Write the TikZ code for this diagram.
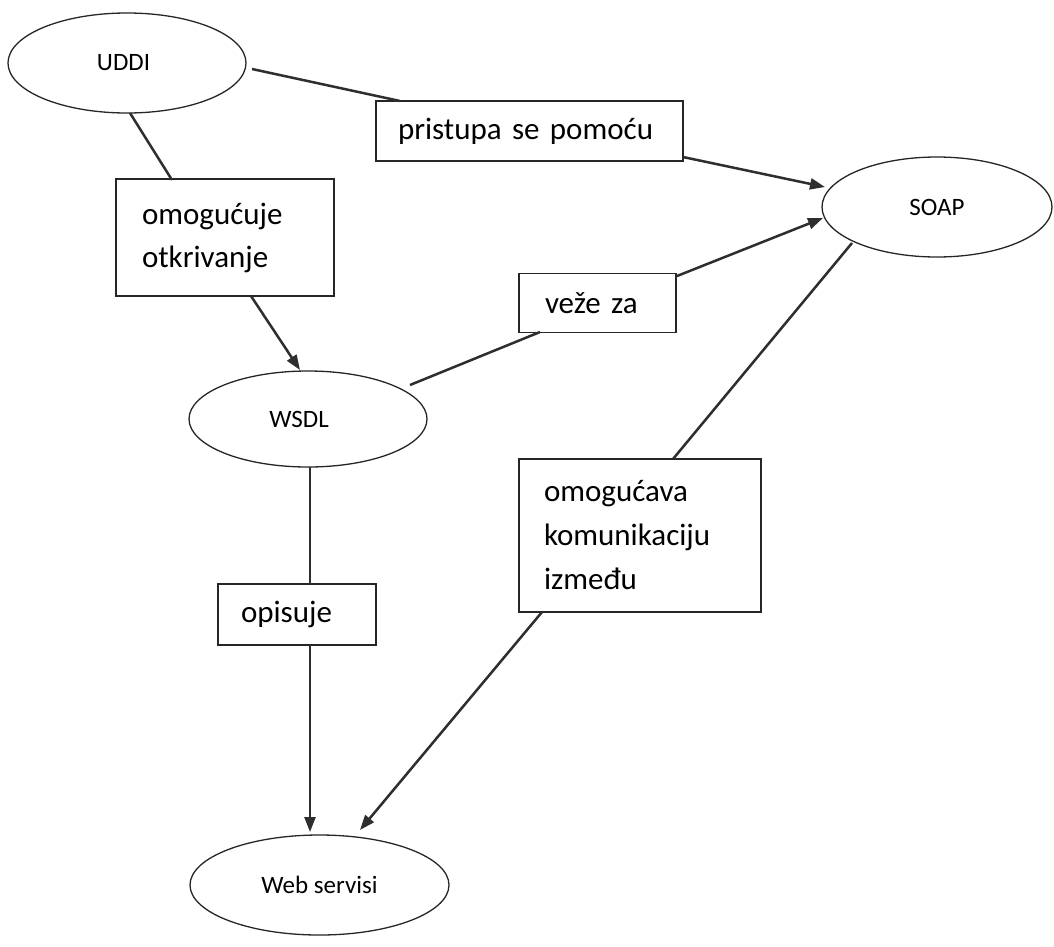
\documentclass[tikz,border=0pt]{standalone}
\usepackage{fontspec}
\setmainfont{Carlito}
\usetikzlibrary{shapes.geometric,arrows.meta,calc}
\begin{document}
\begin{tikzpicture}[x=1pt,y=-1pt,
  ell/.style={ellipse,draw=black!85,line width=1.3pt,inner sep=0pt,outer sep=0pt,fill=white,font=\fontsize{25}{30}\selectfont},
  lbl/.style={rectangle,draw=black!85,line width=1.5pt,inner ysep=0pt,outer sep=0pt,fill=white,align=left,font=\fontsize{31}{43}\selectfont},
  conn/.style={draw=black!82,line width=2.5pt},
  arr/.style={conn,-{Triangle[length=15pt,width=11pt]}}]
\useasboundingbox[fill=white] (0,0) rectangle (1054,946);
% ellipses
\node[ell,minimum width=238pt,minimum height=100pt] (uddi) at (127,63) {UDDI\hspace*{7pt}};
\node[ell,minimum width=230pt,minimum height=100pt] (soap) at (937,207) {SOAP};
\node[ell,minimum width=238pt,minimum height=96pt] (wsdl) at (308,419) {WSDL\hspace*{18pt}};
\node[ell,minimum width=259pt,minimum height=100pt] (web) at (319.5,885) {Web servisi};
% label boxes
\node[lbl,text width=263pt,inner xsep=22pt,minimum height=60pt] (pr) at (529.5,131) {pristupa se pomoću};
\node[lbl,text width=166pt,inner xsep=26pt,minimum height=117pt] (omog) at (225,237.5) {omogućuje\\otkrivanje};
\node[lbl,text width=105pt,inner xsep=26pt,minimum height=59pt] (veze) at (597.5,303) {veže za};
\node[lbl,text width=112pt,inner xsep=23pt,minimum height=61pt] (opis) at (297,614.5) {opisuje};
\node[lbl,text width=192pt,inner xsep=25pt,minimum height=153pt,font=\fontsize{31}{44}\selectfont] (comm) at (640,535.5) {omogućava\\komunikaciju\\između};
% connectors
\draw[conn] ($(uddi)+(125,6)$) -- ($(pr)+(-129.5,-30)$);
\draw[arr] ($(pr)+(153.5,26)$) -- ($(soap)+(-112,-20)$);
\draw[conn] ($(uddi)+(3,50)$) -- ($(omog)+(-53,-57.5)$);
\draw[arr] ($(omog)+(26,58.5)$) -- ($(wsdl)+(-8,-49)$);
\draw[conn] ($(wsdl)+(102,-34)$) -- ($(veze)+(-57.5,29)$);
\draw[arr] ($(veze)+(79.5,-27)$) -- ($(soap)+(-114,11)$);
\draw[conn] ($(soap)+(-85,36)$) -- ($(comm)+(33,-76.5)$);
\draw[arr] ($(comm)+(-98,76.5)$) -- ($(web)+(40.5,-55)$);
\draw[conn] ($(wsdl)+(2,48)$) -- ($(opis)+(13,-30.5)$);
\draw[arr] ($(opis)+(13,30.5)$) -- ($(web)+(-9.5,-53)$);
\end{tikzpicture}
\end{document}
